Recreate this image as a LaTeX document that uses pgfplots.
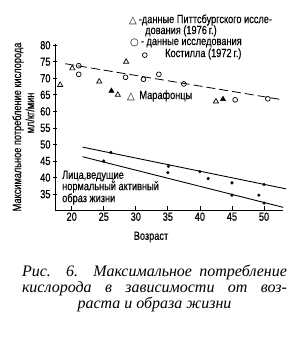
\documentclass[border=0pt]{standalone}
\usepackage{pgfplots}
\pgfplotsset{compat=1.18}
\usepackage{fontspec}
\setmainfont{Liberation Sans}
\newfontfamily\cf[FakeStretch=0.78, FakeBold=0.4]{Liberation Sans}
\newfontfamily\sym{DejaVu Sans}
\newfontfamily\capfont{Liberation Serif}
\newcommand{\lf}{\cf\fontsize{11.8bp}{12bp}\selectfont}
\newcommand{\capf}{\capfont\itshape\fontsize{16bp}{12.6bp}\selectfont}
\begin{document}
\begin{tikzpicture}
\path[use as bounding box] (0,0) rectangle (306bp,-344bp);
\begin{axis}[
 at={(55bp,-210bp)}, anchor=south west,
 scale only axis, width=228bp, height=165.8bp,
 xmin=17.4, xmax=52.96, ymin=30.2, ymax=80.3,
 axis x line*=bottom, axis y line*=left,
 axis line style={-, line width=0.8pt},
 xtick={20,25,30,35,40,45,50}, ytick={35,40,...,80},
 xtick align=inside, ytick align=center,
 major tick length=4bp, tick style={line width=0.7pt, black},
 ticklabel style={font=\lf},
 /pgf/number format/assume math mode=true,
 xticklabel style={yshift=1bp},
 yticklabel style={xshift=1bp},
 clip=false,
]
% dashed trend (marathon runners)
\addplot[black, line width=0.8pt, dash pattern=on 9bp off 4bp] coordinates {(19,74.4) (52.6,63.6)};
% lower solid lines
\addplot[black, line width=0.9pt] coordinates {(21.7,49.2) (53.4,36.6)};
\addplot[black, line width=0.9pt] coordinates {(21.7,46.3) (53.0,31.0)};
% open triangles (Pittsburgh)
\addplot[only marks, mark=triangle, mark size=3bp, mark options={line width=0.7pt}] coordinates {
 (18.2,68) (20.1,73) (24.3,69) (28.5,75) (27.2,65) (42.5,63)};
% filled triangles
\addplot[only marks, mark=triangle*, mark size=3bp] coordinates {(26.2,66.2) (43.6,63.7)};
% circles (Costill)
\addplot[only marks, mark=o, mark size=2.4bp, mark options={line width=0.7pt}] coordinates {
 (21.1,73.8) (21.1,71.2) (31.4,77) (28.4,70.3) (31.2,69.7) (33.6,71.2) (37.5,68.3) (45.5,63.5) (50.6,63.8)};
% dots (normal active)
\addplot[only marks, mark=*, mark size=1.4bp] coordinates {
 (26.1,47.6) (35.1,43.4) (40,41.8) (45,38.4) (50,37.9)
 (25,45) (35,41.5) (41.3,39.7) (45,34.7) (49.2,34.7) (50,32.3)};
\end{axis}
% legend texts
\node[anchor=west, inner sep=0pt, font=\lf] at (129bp,-20bp) {{\sym\fontsize{10bp}{10bp}\selectfont △}\,-данные Питтсбургского иссле-};
\node[anchor=west, inner sep=0pt, font=\lf] at (145bp,-31bp) {дования (1976\,г.)};
\node[anchor=west, inner sep=0pt, font=\lf] at (130bp,-43bp) {{\sym\fontsize{10bp}{10bp}\selectfont ○}\,- данные исследования};
\node[anchor=west, inner sep=0pt, font=\lf] at (165bp,-54bp) {Костилла (1972\,г.)};
\node[anchor=west, inner sep=0pt, font=\lf] at (127bp,-96bp) {{\sym\fontsize{10bp}{10bp}\selectfont △}\, Марафонцы};
\node[anchor=west, inner sep=0pt, font=\lf] at (62bp,-176bp) {Лица,ведущие};
\node[anchor=west, inner sep=0pt, font=\lf] at (62bp,-187bp) {нормальный активный};
\node[anchor=west, inner sep=0pt, font=\lf] at (62bp,-199bp) {образ жизни};
% axis labels
\node[rotate=90, inner sep=0pt, font=\lf] at (18bp,-127bp) {Максимальное потребление кислорода};
\node[rotate=90, inner sep=0pt, font=\lf] at (30bp,-113bp) {мл/кг/мин};
\node[inner sep=0pt, font=\lf] at (151bp,-237bp) {Возраст};
% caption
\node[anchor=north, inner sep=0pt, font=\capf, align=center] at (154.5bp,-265bp) {\makebox[265bp][s]{Рис. 6. Максимальное потребление}\\\makebox[265bp][s]{кислорода в зависимости от воз-}\\раста и образа жизни};
\end{tikzpicture}
\end{document}
